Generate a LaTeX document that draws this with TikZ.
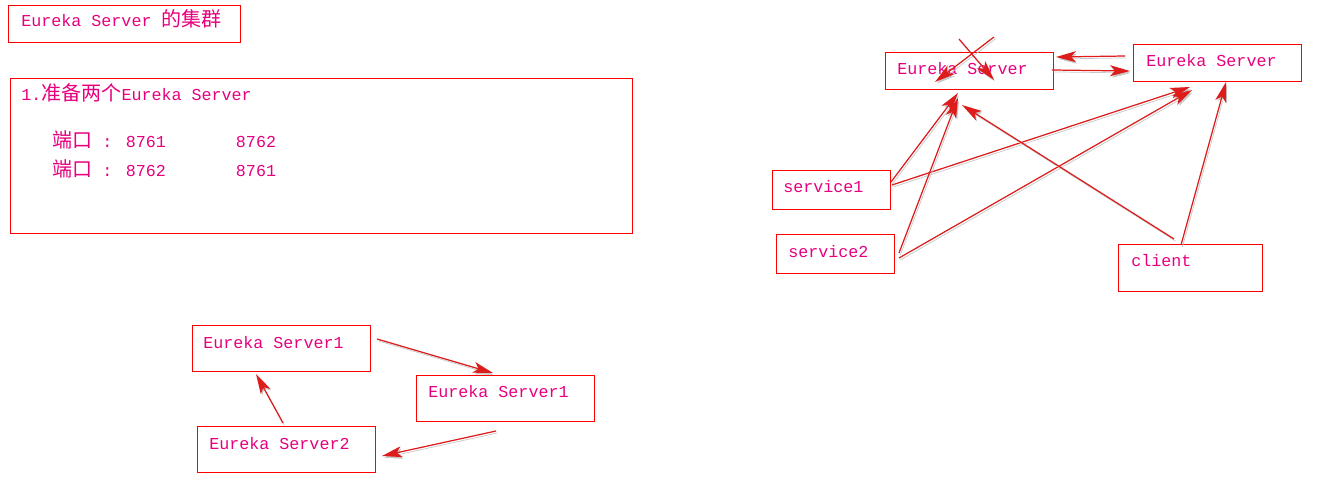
\documentclass[tikz,border=0pt]{standalone}
\usepackage{fontspec}
\setmainfont{Liberation Mono}
\newfontfamily\cjk[Scale=1.2]{Noto Sans CJK SC}
\usetikzlibrary{positioning, arrows.meta}
\definecolor{boxred}{HTML}{FF0000}
\definecolor{textpink}{HTML}{E6007E}
\definecolor{arrowred}{HTML}{DD1C1C}
\tikzset{
  box/.style={draw=boxred, line width=0.6pt, inner sep=0pt, anchor=north west},
  boxsize/.style 2 args={minimum width=#1*0.02cm, minimum height=#2*0.02cm},
  txt/.style={text=textpink, inner sep=0pt, anchor=base west,
              font=\fontsize{9.5}{11}\selectfont},
  arrow/.style={-{Stealth[length=4mm, width=2.2mm, inset=1mm]},
                draw=arrowred, fill=boxred, line width=0.7pt,
                preaction={draw=black!22, transform canvas={shift={(0.8pt,-1.1pt)}}}},
}

\begin{document}
\begin{tikzpicture}[x=0.02cm, y=-0.02cm]

\useasboundingbox (0,0) rectangle (1318,500);

%% ====================  TITLE AND NOTES  ====================

\node[box, boxsize={232}{37}] (title) at (8,5) {};
\node[txt] (title_text) at ([shift={(13,22)}]title.north west)
  {Eureka Server {\cjk 的集群}};

\node[box, boxsize={622}{155}] (notes) at (10,78) {};
\node[txt] (notes_l1) at ([shift={(11,23)}]notes.north west)
  {1.{\cjk 准备两个}Eureka Server};
\node[txt] (notes_l2) at ([shift={(42,70)}]notes.north west)
  {{\cjk 端口} : 8761~~~~~~~8762};
\node[txt] (notes_l3) at ([shift={(42,98)}]notes.north west)
  {{\cjk 端口} : 8762~~~~~~~8761};

%% ====================  CLUSTER (RIGHT)  ====================

\node[box, boxsize={168}{37}] (eurekaA) at (885,52) {};
\node[txt] (eurekaA_text) at ([shift={(12,23)}]eurekaA.north west) {Eureka Server};

\node[box, boxsize={168}{37}] (eurekaB) at (1133,44) {};
\node[txt] (eurekaB_text) at ([shift={(13,23)}]eurekaB.north west) {Eureka Server};

\node[box, boxsize={118}{39}] (service1) at (772,170) {};
\node[txt] (service1_text) at ([shift={(11,22)}]service1.north west) {service1};

\node[box, boxsize={118}{39}] (service2) at (776,234) {};
\node[txt] (service2_text) at ([shift={(12,23)}]service2.north west) {service2};

\node[box, boxsize={144}{47}] (client) at (1118,244) {};
\node[txt] (client_text) at ([shift={(13,22)}]client.north west) {client};

%% crossed-out pair above the left server
\coordinate (crossA1) at ([shift={(109,-15)}]eurekaA.north west);
\coordinate (crossA2) at ([shift={(50,30)}]eurekaA.north west);
\coordinate (crossB1) at ([shift={(74,-13)}]eurekaA.north west);
\coordinate (crossB2) at ([shift={(109,28)}]eurekaA.north west);
\draw[arrow] (crossA1) -- (crossA2);
\draw[arrow] (crossB1) -- (crossB2);

%% server to server
\draw[arrow] ([shift={(-8,12)}]eurekaB.north west) -- ([shift={(171,5)}]eurekaA.north west);
\draw[arrow] ([shift={(167,18)}]eurekaA.north west) -- ([shift={(-3,27)}]eurekaB.north west);

%% services and client register with both
\draw[arrow] ([shift={(119,12)}]service1.north west) -- ([shift={(73,41)}]eurekaA.north west);
\draw[arrow] ([shift={(120,15)}]service1.north west) -- ([shift={(57,43)}]eurekaB.north west);
\draw[arrow] ([shift={(123,19)}]service2.north west) -- ([shift={(73,46)}]eurekaA.north west);
\draw[arrow] ([shift={(123,24)}]service2.north west) -- ([shift={(59,46)}]eurekaB.north west);
\draw[arrow] ([shift={(56,-5)}]client.north west) -- ([shift={(77,53)}]eurekaA.north west);
\draw[arrow] ([shift={(63,1)}]client.north west) -- ([shift={(93,38)}]eurekaB.north west);

%% ====================  RING (BOTTOM)  ====================

\node[box, boxsize={178}{46}] (server1) at (192,325) {};
\node[txt] (server1_text) at ([shift={(11,23)}]server1.north west) {Eureka Server1};

\node[box, boxsize={178}{46}] (server1b) at (416,375) {};
\node[txt] (server1b_text) at ([shift={(12,22)}]server1b.north west) {Eureka Server1};

\node[box, boxsize={178}{46}] (server2) at (197,426) {};
\node[txt] (server2_text) at ([shift={(12,23)}]server2.north west) {Eureka Server2};

\draw[arrow] ([shift={(185,14)}]server1.north west) -- ([shift={(77,-2)}]server1b.north west);
\draw[arrow] ([shift={(80,56)}]server1b.north west) -- ([shift={(185,30)}]server2.north west);
\draw[arrow] ([shift={(86,-3)}]server2.north west) -- ([shift={(64,49)}]server1.north west);

\end{tikzpicture}
\end{document}
